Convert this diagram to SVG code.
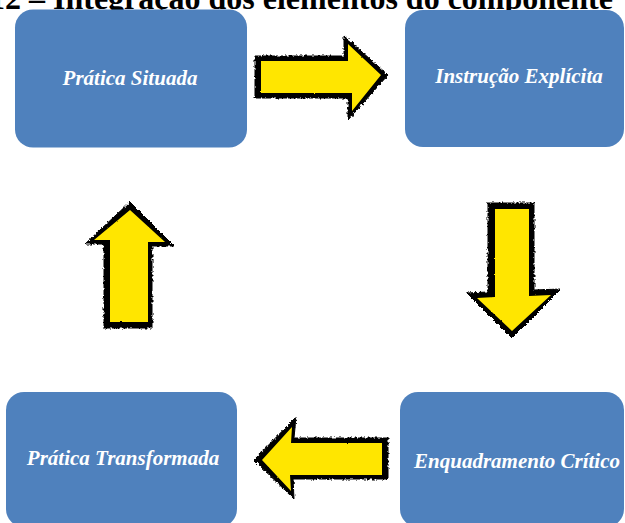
<svg xmlns="http://www.w3.org/2000/svg" width="625" height="523" viewBox="0 0 625 523">
  <defs>
    <style>
      .box { fill: #4F81BD; }
      .lbl { font-family: "Liberation Serif", "Times New Roman", serif; font-weight: bold; font-style: italic; font-size: 21px; fill: #FFFFFF; text-anchor: middle; }
      .title { font-family: "Liberation Serif", "Times New Roman", serif; font-weight: bold; font-size: 32px; fill: #000000; }
      .ink { fill: #000000; stroke: #000000; stroke-width: 1; stroke-linejoin: round; }
      .paint { fill: #FFE600; }
    </style>
    <!-- rough brush edge for the hand-drawn arrows -->
    <filter id="rough" x="-15%" y="-15%" width="130%" height="130%">
      <feTurbulence type="fractalNoise" baseFrequency="0.4" numOctaves="2" seed="7" result="noise"/>
      <feDisplacementMap in="SourceGraphic" in2="noise" scale="4" xChannelSelector="R" yChannelSelector="G"/>
    </filter>
    <filter id="soft" x="-10%" y="-10%" width="120%" height="120%">
      <feTurbulence type="fractalNoise" baseFrequency="0.3" numOctaves="1" seed="2" result="noise"/>
      <feDisplacementMap in="SourceGraphic" in2="noise" scale="2" xChannelSelector="R" yChannelSelector="G"/>
    </filter>
  </defs>

  <rect width="625" height="523" fill="#FFFFFF"/>

  <text class="title" x="-11" y="9">12 – Integração dos elementos do componente</text>

  <g id="node-pratica-situada">
    <rect class="box" x="15" y="9.5" width="232" height="138" rx="18"/>
    <text class="lbl" x="130" y="85">Prática Situada</text>
  </g>

  <g id="node-instrucao-explicita">
    <rect class="box" x="405" y="10" width="219" height="137" rx="18"/>
    <text class="lbl" x="519" y="83">Instrução Explícita</text>
  </g>

  <g id="node-enquadramento-critico">
    <rect class="box" x="400" y="392" width="224" height="135" rx="18"/>
    <text class="lbl" x="517" y="468">Enquadramento Crítico</text>
  </g>

  <g id="node-pratica-transformada">
    <rect class="box" x="6" y="392" width="231" height="135" rx="18"/>
    <text class="lbl" x="123" y="465">Prática Transformada</text>
  </g>

  <g id="connectors">
    <!-- Prática Situada to Instrução Explícita -->
    <g id="arrow-right">
      <path class="ink" filter="url(#rough)" d="M255,56 L344,56 L344,36 L388,75 L348,120 L348,98 L255,98 Z"/>
      <path class="paint" filter="url(#soft)" d="M261,61 L348,61 L348,44 L381,75 L352,111 L352,93 L261,93 Z"/>
    </g>
    <!-- Instrução Explícita to Enquadramento Crítico -->
    <g id="arrow-down">
      <path class="ink" filter="url(#rough)" d="M488,203 L534,203 L534,290 L561,289 L512,338 L467,293 L488,292 Z"/>
      <path class="paint" filter="url(#soft)" d="M495,209 L529,209 L529,296 L551,295 L512,331 L477,298 L495,297 Z"/>
    </g>
    <!-- Enquadramento Crítico to Prática Transformada -->
    <g id="arrow-left">
      <path class="ink" filter="url(#rough)" d="M254,460 L296,417 L294,438 L388,438 L388,479 L293,479 L294,499 Z"/>
      <path class="paint" filter="url(#soft)" d="M262,460 L292,427 L291,443 L382,443 L382,475 L290,475 L291,491 Z"/>
    </g>
    <!-- Prática Transformada to Prática Situada -->
    <g id="arrow-up">
      <path class="ink" filter="url(#rough)" d="M130,202 L174,246 L152,246 L152,328 L104,328 L104,244 L85,244 Z"/>
      <path class="paint" filter="url(#soft)" d="M130,210 L165,242 L148,242 L148,322 L110,322 L110,240 L94,240 Z"/>
    </g>
  </g>
</svg>
